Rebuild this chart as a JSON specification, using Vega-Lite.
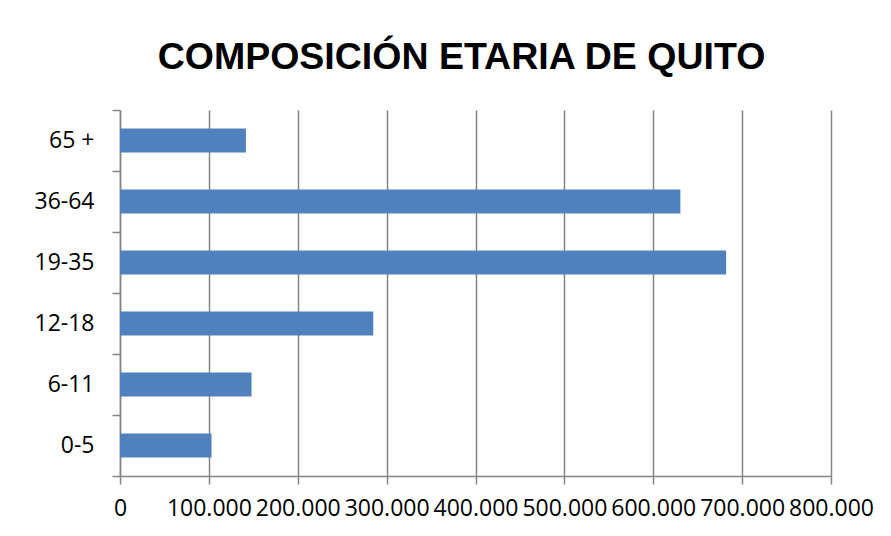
{
  "$schema": "https://vega.github.io/schema/vega-lite/v6.json",
  "width": 711,
  "height": 366,
  "autosize": "none",
  "padding": {"left": 120, "top": 110, "right": 60, "bottom": 60},
  "background": "white",
  "title": {
    "text": "COMPOSICIÓN ETARIA DE QUITO",
    "font": "Liberation Sans",
    "fontSize": 37.5,
    "fontWeight": "bold",
    "color": "black",
    "anchor": "middle",
    "dx": -14,
    "offset": 23
  },
  "data": {
    "values": [
      {"edad": "0-5", "poblacion": 103000},
      {"edad": "6-11", "poblacion": 148000},
      {"edad": "12-18", "poblacion": 285000},
      {"edad": "19-35", "poblacion": 682000},
      {"edad": "36-64", "poblacion": 630500},
      {"edad": "65 +", "poblacion": 141700}
    ]
  },
  "mark": {"type": "bar", "color": "#4F81BD", "height": {"band": 0.39}},
  "encoding": {
    "y": {
      "field": "edad",
      "type": "nominal",
      "sort": ["65 +", "36-64", "19-35", "12-18", "6-11", "0-5"],
      "scale": {"paddingInner": 0, "paddingOuter": 0},
      "axis": {
        "title": null,
        "domainColor": "#858585",
        "domainWidth": 1.5,
        "tickColor": "#858585",
        "tickWidth": 1.5,
        "tickSize": 8,
        "tickBand": "extent",
        "labelFont": "Open Sans",
        "labelFontSize": 23,
        "labelColor": "black",
        "labelPadding": 18,
        "grid": false
      }
    },
    "x": {
      "field": "poblacion",
      "type": "quantitative",
      "scale": {"domain": [0, 800000], "nice": false},
      "axis": {
        "title": null,
        "values": [0, 100000, 200000, 300000, 400000, 500000, 600000, 700000, 800000],
        "labelExpr": "replace(format(datum.value, ','), ',', '.')",
        "labelOverlap": false,
        "labelFlush": false,
        "labelFont": "Open Sans",
        "labelFontSize": 23,
        "labelColor": "black",
        "labelPadding": 13,
        "domainColor": "#858585",
        "domainWidth": 1.5,
        "tickColor": "#858585",
        "tickWidth": 1.5,
        "tickSize": 8,
        "grid": true,
        "gridColor": "#858585",
        "gridWidth": 1.5
      }
    }
  },
  "config": {"view": {"stroke": null}}
}
